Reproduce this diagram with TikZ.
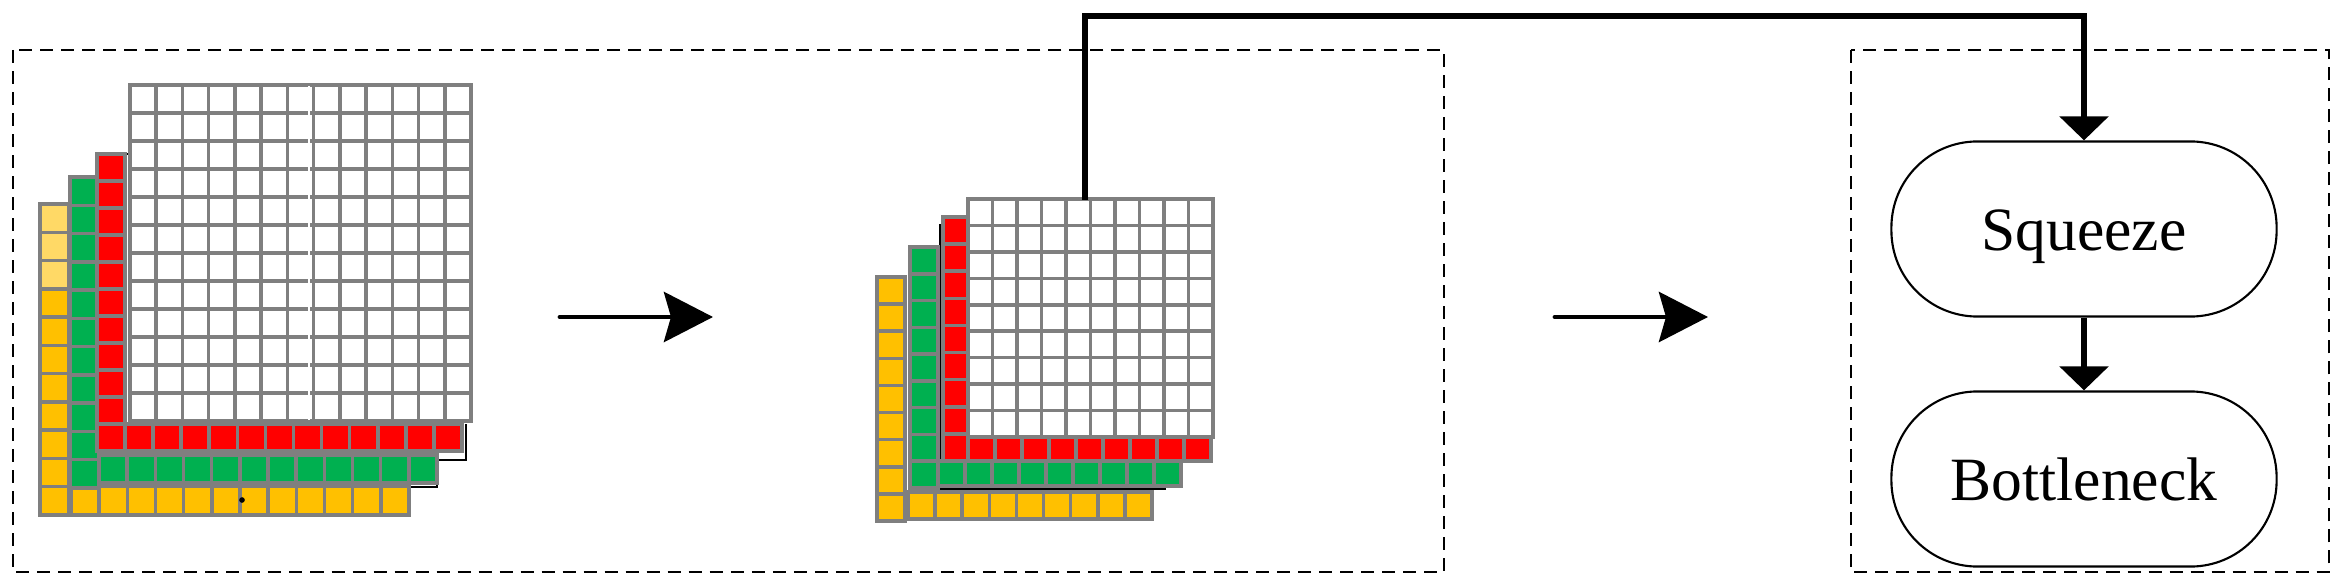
\documentclass[tikz,border=0pt]{standalone}
\usepackage{fontspec}
\setmainfont{Liberation Serif}
\usetikzlibrary{arrows.meta}

\definecolor{cellgray}{HTML}{7F7F7F}
\definecolor{cellred}{HTML}{FF0000}
\definecolor{cellgreen}{HTML}{00B050}
\definecolor{cellyellow}{HTML}{FFC000}
\definecolor{celllight}{HTML}{FFD966}

\tikzset{
	cellbox/.style={draw=cellgray,line width=1pt},
	groupbox/.style={draw,line width=0.8pt,dash pattern=on 0.13cm off 0.08cm},
	term/.style={draw,rounded corners=0.86cm,line width=0.6pt,minimum width=3.85cm,minimum height=1.75cm,
		text height=12pt,text depth=0pt,font=\fontsize{17.5}{21}\selectfont},
	flow/.style={line width=1.7pt,-{Triangle[width=0.48cm,length=0.24cm]}},
	midarrow/.style={line width=1.4pt,line cap=round,-{Stealth[length=0.49cm,width=0.5cm,inset=0.07cm]}}
}

% block of cells: x0, y0, x1, y1, columns, rows, colour
\newcommand{\cellblock}[7]{%
	\foreach \i in {1,...,#5}{%
		\foreach \j in {1,...,#6}{%
			\draw[cellbox,fill=#7] ({#1+(\i-1)*(#3-#1)/#5},{#2+(\j-1)*(#4-#2)/#6})
			rectangle ({#1+\i*(#3-#1)/#5},{#2+\j*(#4-#2)/#6});
		}
	}
}

\begin{document}
\begin{tikzpicture}[x=0.01cm,y=-0.01cm]
	\useasboundingbox (0,0) rectangle (2339,579);
	
	\draw[groupbox] (13,50) rectangle (1444,572);
	\draw[groupbox] (1851,50) rectangle (2329,572);
	
	% first stack, back layer first
	\draw[thin] (70,181) -- (70,514);
	\draw[thin] (466,424) -- (466,460) -- (437,460) -- (437,487) -- (409,487) -- (409,515);
	\draw[thin] (125,154) -- (130,154);
	\cellblock{40}{204}{69}{515}{1}{11}{cellyellow}
	\cellblock{40}{204}{69}{288.8}{1}{3}{celllight}
	\cellblock{71}{486}{409}{515}{12}{1}{cellyellow}
	\cellblock{70}{177}{99}{488}{1}{11}{cellgreen}
	\cellblock{99}{455}{437}{483}{12}{1}{cellgreen}
	\cellblock{97}{154}{125}{451}{1}{11}{cellred}
	\cellblock{125}{424}{462}{451}{12}{1}{cellred}
	\cellblock{130}{85}{471}{421}{13}{12}{white}
	\draw[white,line width=0.6pt] (309,86) -- (309,420);
	\fill (242,500) circle[radius=0.8pt];
	
	% second stack
	\draw[thin] (940,224) -- (940,489) -- (1165,489) -- (1165,485);
	\cellblock{877}{277}{905}{521}{1}{9}{cellyellow}
	\cellblock{908}{492}{1152}{519}{9}{1}{cellyellow}
	\cellblock{910}{247}{938}{488}{1}{9}{cellgreen}
	\cellblock{938}{461}{1181}{486}{9}{1}{cellgreen}
	\cellblock{943}{217}{968}{461}{1}{9}{cellred}
	\cellblock{968}{437}{1211}{461}{9}{1}{cellred}
	\cellblock{968}{199}{1213}{437}{10}{9}{white}
	
	\coordinate (poolin) at (560,317);
	\coordinate (poolout) at (713,317);
	\coordinate (fcin) at (1555,317);
	\coordinate (fcout) at (1708,317);
	\coordinate (gtop) at (1085,200);
	\coordinate (gturn) at (1085,16);
	
	\node[term] (squeeze) at (2084,229) {Squeeze};
	\node[term] (bneck) at (2084,479) {Bottleneck};
	
	\draw[midarrow] (poolin) -- (poolout);
	\draw[midarrow] (fcin) -- (fcout);
	
	\draw[flow] (gtop) -- (gturn) -| (squeeze.north);
	\draw[flow] (squeeze) -- (bneck);
	
\end{tikzpicture}
\end{document}
